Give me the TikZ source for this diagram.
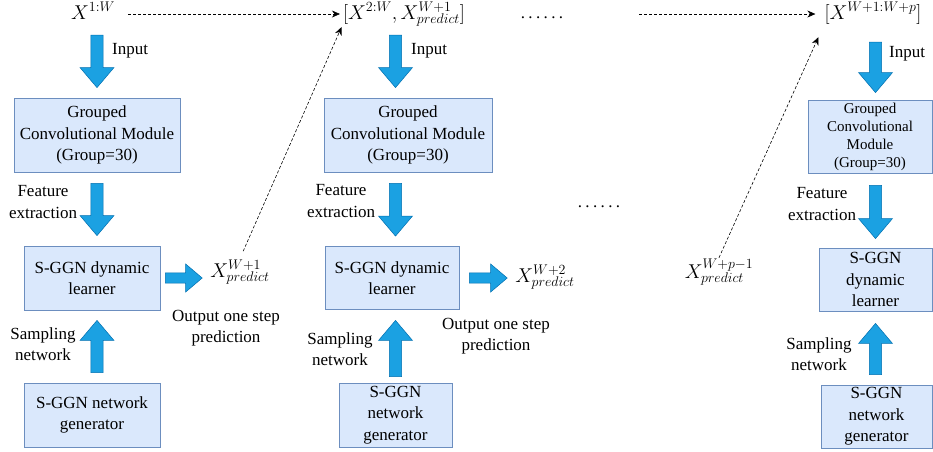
\documentclass[tikz,border=0pt]{standalone}
\usepackage{fix-cm}
\usepackage{fontspec}
\setmainfont{Liberation Serif}
\usetikzlibrary{arrows.meta, calc, positioning}

\definecolor{boxfill}{HTML}{DAE8FC}
\definecolor{boxedge}{HTML}{6C8EBF}
\definecolor{arrowfill}{HTML}{1BA1E2}
\definecolor{arrowedge}{HTML}{006EAF}

\newcommand{\txtfont}{\fontsize{17}{21.5}\selectfont}
\newcommand{\smallfont}{\fontsize{15}{18}\selectfont}
\newcommand{\mathfont}{\fontsize{20}{24}\selectfont}

\tikzset{
  module/.style={draw=boxedge, fill=boxfill, line width=0.8pt, align=center, font=\txtfont, inner sep=2pt},
  lbl/.style={align=center, font=\txtfont, inner sep=1pt},
  seq/.style={font=\mathfont, inner sep=1pt, text height=16pt, text depth=6pt},
  pred/.style={font=\mathfont, inner sep=1pt},
  bigarrow/.style={fill=arrowfill, draw=arrowedge, line width=0.5pt},
  flow/.style={dash pattern=on 3pt off 2pt, line width=0.6pt, -{Stealth[length=8pt, width=7pt]}},
}

% block arrow from #2 to #3, #1 = half width of the head
\newcommand{\fatarrow}[3][17]{%
  \path[bigarrow] let \p1=#2, \p2=#3,
      \n1={atan2(\y2-\y1,\x2-\x1)},
      \n2={veclen(\x2-\x1,\y2-\y1)-1.18*#1},
      \n3={0.36*#1}
    in ($(\p1)+(\n1-90:\n3*1pt)$)
    -- ($(\p1)+(\n1:\n2*1pt)+(\n1-90:\n3*1pt)$)
    -- ($(\p1)+(\n1:\n2*1pt)+(\n1-90:#1*1pt)$)
    -- (\p2)
    -- ($(\p1)+(\n1:\n2*1pt)+(\n1+90:#1*1pt)$)
    -- ($(\p1)+(\n1:\n2*1pt)+(\n1+90:\n3*1pt)$)
    -- ($(\p1)+(\n1+90:\n3*1pt)$) -- cycle;}

\begin{document}
\begin{tikzpicture}[x=1pt, y=-1pt]
\useasboundingbox (0,0) rectangle (933,451);

% sequences fed in along the top
\node[seq] (x1) at (93,14) {$X^{1:W}$};
\node[seq] (x2) at (404,14) {$[X^{2:W},X^{W+1}_{predict}]$};
\node[lbl, anchor=base] (dots1) at (542,18) {\addfontfeature{LetterSpace=20}......};
\node[seq] (x3) at (873,14) {$[X^{W+1:W+p}]$};

% step 1
\node[module, minimum width=166pt, minimum height=74pt] (gcm1) at (97,135) {Grouped\\Convolutional Module\\(Group=30)};
\node[module, minimum width=136pt, minimum height=64pt] (sgl1) at (92,278) {S-GGN dynamic\\learner};
\node[module, minimum width=136pt, minimum height=64pt] (gen1) at (92,415) {S-GGN network\\generator};
\node[pred] (p1) at (240,272) {$X^{W+1}_{predict}$};
\node[lbl, anchor=west] (inp1) at (111,51) {Input};
\node[lbl] (fe1) at (43,202) {Feature\\extraction};
\node[lbl] (out1) at (226,328) {Output one step\\prediction};
\node[lbl] (sn1) at (43,344) {Sampling\\network};

% step 2
\node[module, minimum width=168pt, minimum height=74pt] (gcm2) at (408,135) {Grouped\\Convolutional Module\\(Group=30)};
\node[module, minimum width=134pt, minimum height=63pt] (sgl2) at (392,278) {S-GGN dynamic\\learner};
\node[module, minimum width=113pt, minimum height=64pt] (gen2) at (395.5,415) {S-GGN\\network\\generator};
\node[pred] (p2) at (545,277) {$X^{W+2}_{predict}$};
\node[lbl, anchor=west] (inp2) at (410,51) {Input};
\node[lbl] (fe2) at (341,201) {Feature\\extraction};
\node[lbl] (out2) at (496,336) {Output one step\\prediction};
\node[lbl] (sn2) at (340,349) {Sampling\\network};
\node[lbl, anchor=base] (dots2) at (599,207) {\addfontfeature{LetterSpace=20}......};

% last step
\node[module, font=\smallfont, minimum width=124pt, minimum height=73pt] (gcm3) at (870,136.5) {Grouped\\Convolutional\\Module\\(Group=30)};
\node[module, minimum width=113pt, minimum height=63pt] (sgl3) at (875.5,279.5) {S-GGN\\dynamic\\learner};
\node[module, minimum width=111pt, minimum height=63pt] (gen3) at (876.5,416.5) {S-GGN\\network\\generator};
\node[pred] (p3) at (719,272) {$X^{W+p-1}_{predict}$};
\node[lbl, anchor=west] (inp3) at (888,54) {Input};
\node[lbl] (fe3) at (822,204) {Feature\\extraction};
\node[lbl] (sn3) at (819,354) {Sampling\\network};

% block arrows
\fatarrow{($(x1.south -| gcm1.center)+(0,9)$)}{($(gcm1.north)+(0,-10)$)}
\fatarrow{($(gcm1.south)+(0,11)$)}{($(gcm1.center |- sgl1.north)+(0,-10)$)}
\fatarrow{($(gcm1.center |- gen1.north)+(0,-10)$)}{($(gcm1.center |- sgl1.south)+(0,10)$)}
\fatarrow[14]{($(sgl1.east)+(5,0)$)}{($(sgl1.east -| p1.west)+(-7,0)$)}

\fatarrow{($(x2.south -| gen2.center)+(0,9)$)}{($(gen2.center |- gcm2.north)+(0,-10)$)}
\fatarrow{($(gen2.center |- gcm2.south)+(0,11)$)}{($(gen2.center |- sgl2.north)+(0,-10)$)}
\fatarrow{($(gen2.north)+(0,-6)$)}{($(gen2.center |- sgl2.south)+(0,10.5)$)}
\fatarrow[14]{($(sgl2.east)+(10,0)$)}{($(sgl2.east -| p2.west)+(-7,0)$)}

\fatarrow{($(x3.south -| sgl3.center)+(0,16)$)}{($(sgl3.center |- gcm3.north)+(0,-7)$)}
\fatarrow{($(sgl3.center |- gcm3.south)+(0,12)$)}{($(sgl3.north)+(0,-9)$)}
\fatarrow{($(sgl3.center |- gen3.north)+(0,-10)$)}{($(sgl3.south)+(0,12)$)}

% rolling the prediction back into the input
\draw[flow, shorten <=12pt, shorten >=2pt] (x1.east) -- (x2.west);
\draw[flow, shorten <=75pt, shorten >=8pt] (dots1.east |- x3.west) -- (x3.west);
\draw[flow, shorten <=8pt, shorten >=1pt] (p1.north) -- (x2.south west);
\draw[flow, shorten >=12pt] (p3.north) -- (x3.south west);

\end{tikzpicture}
\end{document}
